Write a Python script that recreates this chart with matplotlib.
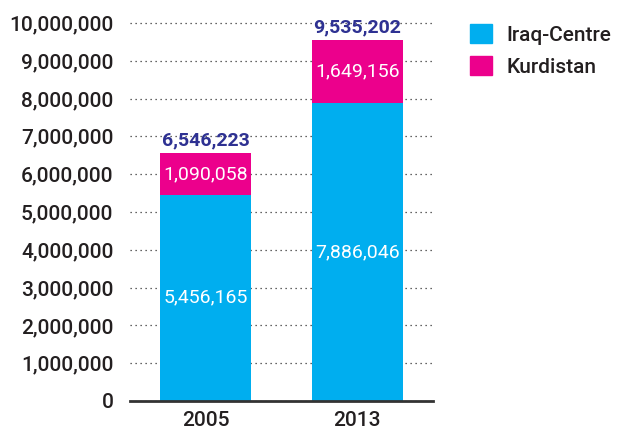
import matplotlib.pyplot as plt
from matplotlib.patches import Patch

years = ['2005', '2013']
iraq_centre = [5456165, 7886046]
kurdistan = [1090058, 1649156]
totals = [6546223, 9535202]

cyan = '#00AEEF'
magenta = '#EC008C'
navy = '#2E3192'
ink = '#231F20'

plt.rcParams['font.family'] = ['Roboto', 'DejaVu Sans']

fig = plt.figure(figsize=(6.22, 4.32), dpi=100)
ax = fig.add_axes([130 / 622, 31 / 432, 303 / 622, 380 / 432])

x = range(len(years))
ax.bar(x, iraq_centre, width=0.6, color=cyan, zorder=3)
ax.bar(x, kurdistan, width=0.6, bottom=iraq_centre, color=magenta, zorder=3)

# Подписи значений внутри столбцов и суммы над ними
for i in x:
    ax.text(i, iraq_centre[i] / 2, f'{iraq_centre[i]:,}', ha='center', va='center',
            color='white', fontsize=14, zorder=4)
    ax.text(i, iraq_centre[i] + kurdistan[i] / 2, f'{kurdistan[i]:,}', ha='center',
            va='center', color='white', fontsize=14, zorder=4)
    ax.text(i, totals[i] + 110000, f'{totals[i]:,}', ha='center', va='bottom',
            color=navy, fontsize=14, fontweight='bold', zorder=4)

ax.set_xlim(-0.5, 1.5)
ax.set_ylim(0, 10.05e6)
ax.set_yticks(range(0, 10000001, 1000000))
ax.set_yticklabels([f'{v:,}' for v in range(0, 10000001, 1000000)])
ax.set_xticks(list(x))
ax.set_xticklabels(years)
ax.tick_params(axis='y', length=0, pad=12, labelsize=15, labelcolor=ink)
ax.tick_params(axis='x', length=0, pad=7, labelsize=15, labelcolor=ink)
for lbl in ax.get_xticklabels() + ax.get_yticklabels():
    lbl.set_fontweight('medium')

ax.grid(axis='y', linestyle=(0, (1, 3)), color='#333333', linewidth=0.9, zorder=0)
for side in ['top', 'right', 'left']:
    ax.spines[side].set_visible(False)
ax.spines['bottom'].set_color('#333333')
ax.spines['bottom'].set_linewidth(2)
ax.spines['bottom'].set_zorder(5)

handles = [Patch(color=cyan, label='Iraq-Centre'), Patch(color=magenta, label='Kurdistan')]
leg = fig.legend(handles=handles, loc='upper left', bbox_to_anchor=(451 / 622, 1 - 5 / 432),
                 frameon=False, fontsize=15, handlelength=1.05, handleheight=1.05,
                 handletextpad=0.7, labelspacing=0.55, labelcolor=ink)
for t in leg.get_texts():
    t.set_fontweight('medium')

fig.savefig('out.png', dpi=100)
